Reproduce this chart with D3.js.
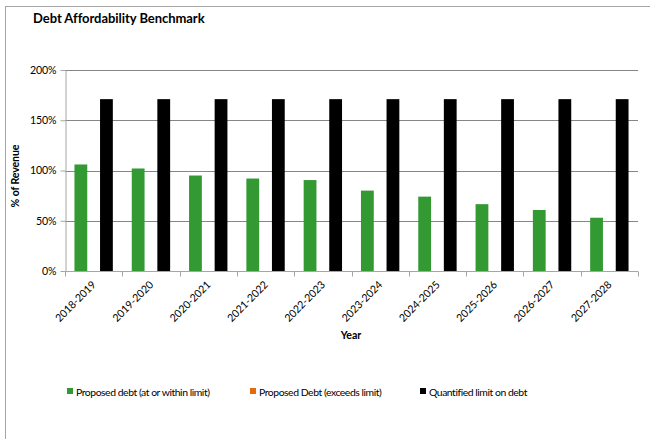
<!DOCTYPE html>
<html><head><meta charset="utf-8">
<script src="https://cdn.jsdelivr.net/npm/d3@7"></script>
<style>body{margin:0;background:#fff}svg{display:block;font-family:Lato,"Open Sans",sans-serif}</style>
</head><body><svg id="c" width="650" height="439"></svg>
<script>
const years = ["2018-2019","2019-2020","2020-2021","2021-2022","2022-2023","2023-2024","2024-2025","2025-2026","2026-2027","2027-2028"];
const seriesNames = ["Proposed debt (at or within limit)","Proposed Debt (exceeds limit)","Quantified limit on debt"];
const proposedWithin = [1.06,1.02,0.95,0.92,0.905,0.80,0.74,0.665,0.607,0.53];
const proposedExceeds = [0,0,0,0,0,0,0,0,0,0];
const quantifiedLimit = [1.71,1.71,1.71,1.71,1.71,1.71,1.71,1.71,1.71,1.71];
const yTicks = [0,0.5,1,1.5,2];
const colors = ["#339933","#e36c09","#000000"];

const svg = d3.select("#c");
svg.append("rect").attr("x",5.5).attr("y",6.5).attr("width",660).attr("height",450)
  .attr("fill","none").attr("stroke","#a6a6a6").attr("stroke-width",1);

svg.append("text").attr("x",33).attr("y",23).attr("font-weight","bold").attr("font-size",13)
  .attr("letter-spacing",-0.05).attr("fill","#000").text("Debt Affordability Benchmark");

const L=65,R=638,T=70,B=271;
const x = d3.scaleBand().domain(years).range([L,R]).paddingInner(0).paddingOuter(0);
const x1 = d3.scaleBand().domain(d3.range(3)).range([0,x.bandwidth()]).paddingInner(0).paddingOuter(0.74);
const y = d3.scaleLinear().domain([0,2]).range([B,T]);

svg.append("g").selectAll("line").data(yTicks.filter(d=>d>0)).join("line")
  .attr("x1",L).attr("x2",R).attr("y1",d=>Math.round(y(d))+0.5).attr("y2",d=>Math.round(y(d))+0.5)
  .attr("stroke","#868686").attr("stroke-width",1);

const data = [proposedWithin,proposedExceeds,quantifiedLimit];
data.forEach((vals,si)=>{
  svg.append("g").selectAll("rect").data(vals).join("rect")
    .attr("x",(d,i)=>x(years[i])+x1(si))
    .attr("width",x1.bandwidth())
    .attr("y",d=>y(d))
    .attr("height",d=>y(0)-y(d))
    .attr("fill",colors[si]);
});

const ya = svg.append("g").attr("transform",`translate(${L+0.5},0)`)
  .call(d3.axisLeft(y).tickValues(yTicks).tickFormat(d=>Math.round(d*100)+"%").tickSize(5).tickSizeOuter(0));
ya.select(".domain").attr("stroke","#a6a6a6");
ya.selectAll(".tick line").attr("stroke","#a6a6a6");
ya.selectAll("text").attr("font-size",10.6).attr("fill","#000").attr("font-family","Lato").attr("dx",-1).attr("letter-spacing",-0.1);

const xa = svg.append("g").attr("transform",`translate(0,${B+0.5})`);
xa.append("line").attr("x1",L).attr("x2",R).attr("stroke","#a6a6a6");
xa.selectAll(".tk").data(years.concat(["end"])).join("line")
  .attr("x1",(d,i)=>Math.round(L+i*x.step())+0.5).attr("x2",(d,i)=>Math.round(L+i*x.step())+0.5)
  .attr("y1",0).attr("y2",5).attr("stroke","#a6a6a6");
xa.selectAll("text").data(years).join("text")
  .attr("transform",d=>`translate(${x(d)+x.bandwidth()/2+3},${14}) rotate(-45)`)
  .attr("text-anchor","end").attr("font-size",10.6).attr("letter-spacing",-0.1).attr("fill","#000").text(d=>d);

svg.append("text").attr("x",351).attr("y",339).attr("text-anchor","middle")
  .attr("font-weight","bold").attr("font-size",10.6).text("Year");
svg.append("text").attr("transform","translate(19,176) rotate(-90)").attr("text-anchor","middle")
  .attr("font-weight","bold").attr("font-size",10.6).attr("letter-spacing",-0.1).text("% of Revenue");

const legX = [67,250,420];
const lg = svg.append("g").selectAll("g").data(seriesNames).join("g")
  .attr("transform",(d,i)=>`translate(${legX[i]},388)`);
lg.append("rect").attr("width",6).attr("height",6).attr("fill",(d,i)=>colors[i]);
lg.append("text").attr("x",9).attr("y",7.5).attr("font-size",10.4).attr("letter-spacing",-0.45).text(d=>d);
</script></body></html>
